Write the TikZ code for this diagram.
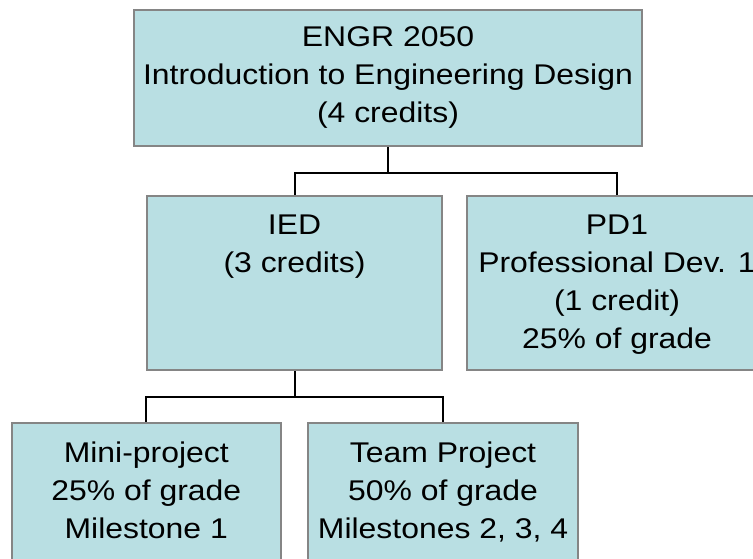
\documentclass[tikz,border=0pt]{standalone}
\usepackage{fontspec}
\setmainfont{Liberation Sans}[FakeStretch=1.12]
\definecolor{boxfill}{HTML}{B9DFE3}
\definecolor{boxline}{HTML}{858585}
\newcommand\fl{\rule{0pt}{30pt}}
\begin{document}
\begin{tikzpicture}[x=1pt,y=-1pt,
  box/.style={draw=boxline,fill=boxfill,line width=2pt,rectangle,inner sep=0pt,minimum height=174pt},
  txt/.style={anchor=north,inner sep=0pt,align=center,font=\fontsize{28.5}{38}\selectfont},
  conn/.style={draw=black,line width=2pt}]
\useasboundingbox (0,0) rectangle (753,558);
\clip (0,0) rectangle (753,558);
\node[box,minimum width=508pt,minimum height=136pt] (top) at (388,78) {};
\node[box,minimum width=295pt] (ied) at (294.5,283) {};
\node[box,minimum width=300pt] (pd1) at (617,283) {};
\node[box,minimum width=269.5pt] (mini) at (146.25,510) {};
\node[box,minimum width=270pt] (team) at (443,510) {};
\draw[conn] (top.south) -- ++(0,26) coordinate (j1) -| (ied.north);
\draw[conn] (j1) -| (pd1.north);
\draw[conn] (ied.south) -- ++(0,26) coordinate (j2) -| (mini.north);
\draw[conn] (j2) -| (team.north);
\node[txt] (topt) at ([yshift=-7pt]top.north) {\fl ENGR 2050\\Introduction to Engineering Design\\(4 credits)};
\node[txt] (iedt) at ([yshift=-9pt]ied.north) {\fl IED\\(3 credits)};
\node[txt] (pd1t) at ([yshift=-9pt]pd1.north) {\fl PD1\\Professional Dev. 1\\(1 credit)\\25\% of grade};
\node[txt] (minit) at ([yshift=-10pt]mini.north) {\fl Mini-project\\25\% of grade\\Milestone 1};
\node[txt] (teamt) at ([yshift=-10pt]team.north) {\fl Team Project\\50\% of grade\\Milestones 2, 3, 4};
\end{tikzpicture}
\end{document}
